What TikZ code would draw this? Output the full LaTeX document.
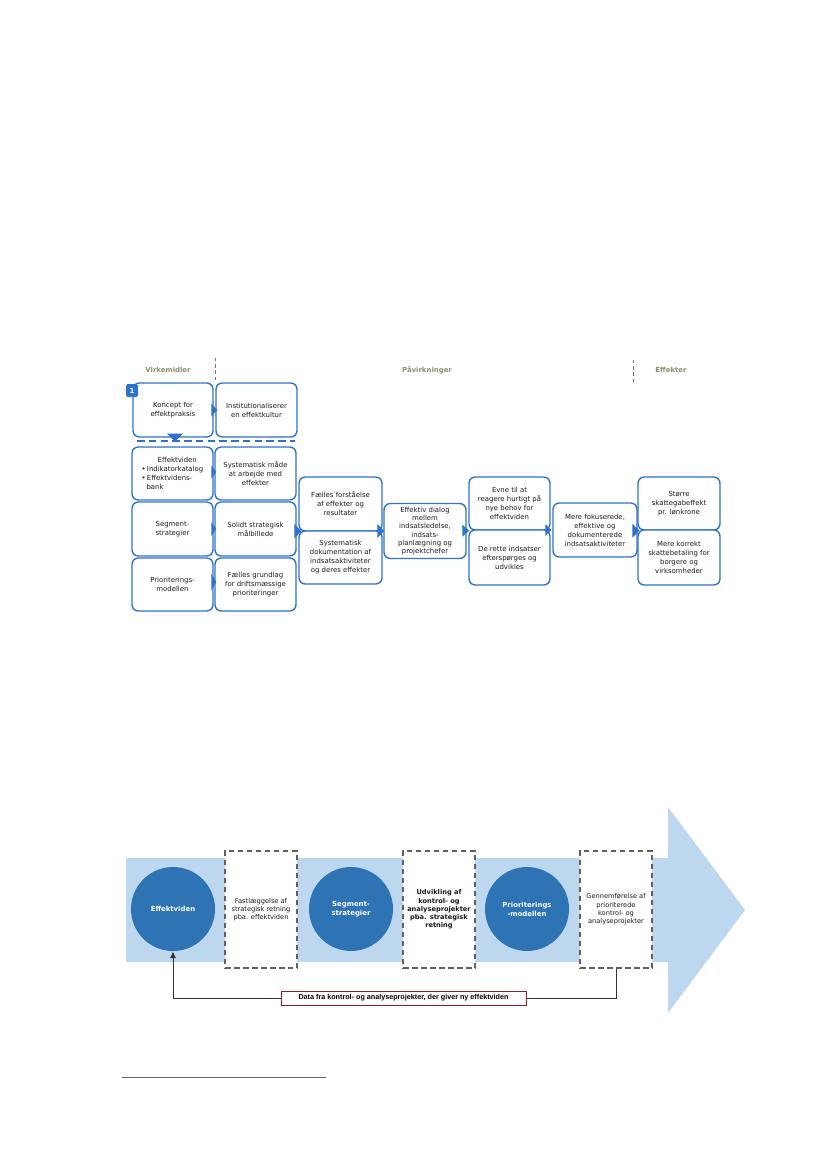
\documentclass[tikz,border=0pt]{standalone}
\usepackage{fontspec}
\setmainfont{DejaVu Sans}
\newfontfamily\arialf{Liberation Sans}
\usetikzlibrary{calc,arrows.meta}
\definecolor{bx}{HTML}{2F73CC}
\definecolor{hdr}{HTML}{8C8C6E}
\definecolor{band}{HTML}{BDD7EE}
\definecolor{circ}{HTML}{2E74B5}
\definecolor{dashg}{HTML}{606060}
\definecolor{lblred}{HTML}{8B2020}
\begin{document}
\begin{tikzpicture}[x=0.254mm,y=-0.254mm,
  bw/.style={minimum width=#1*0.254mm},
  bh/.style={minimum height=#1*0.254mm},
  box/.style={draw=bx, line width=1pt, rounded corners=1.6mm, fill=white, align=center, inner sep=0pt, font=\fontsize{5}{6.5}\selectfont, text=black!90},
  tri/.style={fill=bx},
  hdrtxt/.style={font=\bfseries\fontsize{5}{6}\selectfont, text=hdr},
  vdash/.style={draw=black!55, line width=0.6pt, dash pattern=on 2.5pt off 2pt},
  bluedash/.style={draw=bx, line width=1.4pt, dash pattern=on 5.5pt off 3pt},
  numbox/.style={fill=bx, rounded corners=0.4mm, text=white, font=\bfseries\fontsize{5}{6}\selectfont, inner sep=0pt, bw=12, bh=13},
  circnode/.style={circle, fill=circ, text=white, align=center, inner sep=0pt, minimum size=84*0.254mm, font=\bfseries\fontsize{5}{6.5}\selectfont},
  gbox/.style={draw=dashg, line width=0.8pt, dash pattern=on 4pt off 2.5pt, fill=white, align=center, inner sep=0pt, bw=72, bh=117, font=\fontsize{4.8}{6}\selectfont, text=black!90},
  fb/.style={draw=black!80, line width=0.7pt, -{Latex[length=5pt,width=4.5pt]}},
  lbl/.style={draw=lblred, line width=0.6pt, fill=white, inner sep=0pt, bw=245, bh=14, font=\arialf\bfseries\fontsize{5.2}{6}\selectfont}
]
\useasboundingbox (0,0) rectangle (827,1169);

% ---------- top diagram ----------
\node[hdrtxt] (hv) at (168,370) {Virkemidler};
\node[hdrtxt] (hp) at (427,370) {Påvirkninger};
\node[hdrtxt] (he) at (671,370) {Effekter};
\coordinate (d1a) at (215,358); \coordinate (d1b) at (215,381);
\coordinate (d2a) at (633,360); \coordinate (d2b) at (633,382);
\draw[vdash] (d1a) -- (d1b);
\draw[vdash] (d2a) -- (d2b);

\node[box, bw=80, bh=54] (k1) at (173,410) {Koncept for\\effektpraksis};
\node[box, bw=81, bh=54] (k2) at (256.5,410) {Institutionaliserer\\en effektkultur};
\node[numbox] (n1) at (132,390.5) {1};

\coordinate (bl1) at (137,441); \coordinate (bl2) at (295,441);
\draw[bluedash] (bl1) -- (bl2);
\fill[tri] ($(k1.south)+(-6,-4)$) -- ++(16,0) -- ++(-8,8) -- cycle;

\node[box, bw=81, bh=53, align=left] (r2a) at (172.5,473.5) {\hspace{2.3em}Effektviden\\•\,Indikatorkatalog\\•\,Effektvidens-\\\hspace{0.7em}bank};
\node[box, bw=81, bh=53] (r2b) at (255.5,473.5) {Systematisk måde\\at arbejde med\\effekter};
\node[box, bw=81, bh=54] (r3a) at (172.5,529) {Segment-\\strategier};
\node[box, bw=81, bh=54] (r3b) at (255.5,529) {Solidt strategisk\\målbillede};
\node[box, bw=81, bh=53] (r4a) at (172.5,584.5) {Prioriterings-\\modellen};
\node[box, bw=81, bh=53] (r4b) at (255.5,584.5) {Fælles grundlag\\for driftsmæssige\\prioriteringer};

\node[box, bw=83, bh=54] (c3a) at (340.5,504) {Fælles forståelse\\af effekter og\\resultater};
\node[box, bw=83, bh=53] (c3b) at (340.5,557.5) {Systematisk\\dokumentation af\\indsatsaktiviteter\\og deres effekter};
\node[box, bw=82, bh=55, font=\fontsize{5}{6}\selectfont] (c4) at (425,531) {Effektiv dialog\\mellem\\indsatsledelse,\\indsats-\\planlægning og\\projektchefer};
\node[box, bw=81, bh=53] (c5a) at (509.5,503.5) {Evne til at\\reagere hurtigt på\\nye behov for\\effektviden};
\node[box, bw=81, bh=55] (c5b) at (509.5,557.5) {De rette indsatser\\efterspørges og\\udvikles};
\node[box, bw=84, bh=54] (c6) at (595,530) {Mere fokuserede,\\effektive og\\dokumenterede\\indsatsaktiviteter};
\node[box, bw=82, bh=53] (c7a) at (679,503.5) {Større\\skattegabeffekt\\pr. lønkrone};
\node[box, bw=82, bh=55] (c7b) at (679,557.5) {Mere korrekt\\skattebetaling for\\borgere og\\virksomheder};

% arrow triangles
\fill[tri] ($(k2.west)+(-4,-6.5)$) -- ++(0,13) -- ++(6,-6.5) -- cycle;
\fill[tri] ($(r2b.west)+(-3,-8)$) -- ++(0,13) -- ++(5,-6.5) -- cycle;
\fill[tri] ($(r3b.west)+(-3,-7)$) -- ++(0,14) -- ++(5,-7) -- cycle;
\fill[tri] ($(r4b.west)+(-3,-11)$) -- ++(0,17) -- ++(5,-8.5) -- cycle;
\fill[tri] ($(c3a.south west)+(-4,-8)$) -- ++(0,15) -- ++(7,-7.5) -- cycle;
\fill[tri] ($(c4.west)+(-6,-7)$) -- ++(0,14) -- ++(7,-7) -- cycle;
\fill[tri] ($(c5a.south west)+(-6,-6)$) -- ++(0,12) -- ++(7,-6) -- cycle;
\fill[tri] ($(c6.west)+(-7,-6)$) -- ++(0,12) -- ++(6,-6) -- cycle;
\fill[tri] ($(c7a.south west)+(-5,-7)$) -- ++(0,14) -- ++(7,-7) -- cycle;

% ---------- bottom diagram ----------
\fill[band] (126,858) -- (668,858) -- (668,807) -- (745,910) -- (668,1013) -- (668,962) -- (126,962) -- cycle;

\node[circnode] (c1) at (173,909) {Effektviden};
\node[circnode] (c2) at (351,909) {Segment-\\strategier};
\node[circnode] (cc3) at (527,909) {Prioriterings\\-modellen};

\node[gbox] (g1) at (261,909.5) {Fastlæggelse af\\strategisk retning\\pba. effektviden};
\node[gbox, font=\bfseries\fontsize{4.8}{6}\selectfont] (g2) at (439,909.5) {Udvikling af\\kontrol- og\\analyseprojekter\\pba. strategisk\\retning};
\node[gbox] (g3) at (616,909.5) {Gennemførelse af\\prioriterede\\kontrol- og\\analyseprojekter};

\draw[fb] (g3.south) -- ++(0,30) -| (c1.south);
\node[lbl] (lab) at (403.5,998) {Data fra kontrol- og analyseprojekter, der giver ny effektviden};

% footnote rule
\coordinate (fn1) at (122,1077); \coordinate (fn2) at (326,1077);
\draw[black!60, line width=0.5pt] (fn1) -- (fn2);
\end{tikzpicture}
\end{document}
